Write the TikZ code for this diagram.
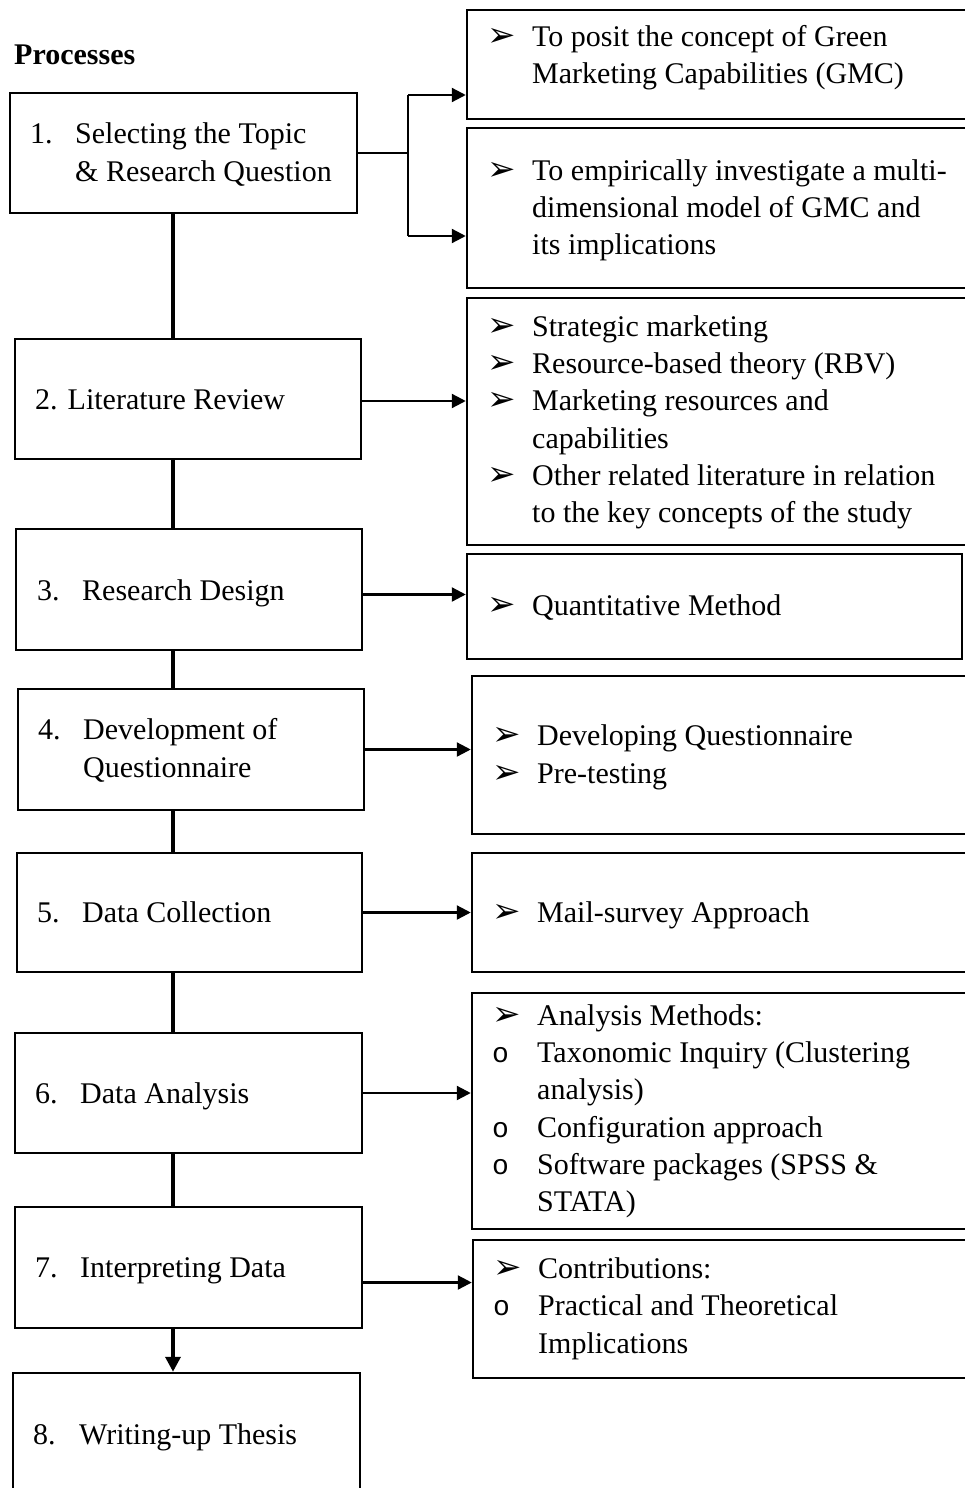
\documentclass[tikz,border=0pt]{standalone}
\usepackage{fontspec}
\setmainfont{Liberation Serif}
\newfontfamily\bulletfont{DejaVu Sans}
\newfontfamily\ringfont{Liberation Mono}
\usetikzlibrary{arrows.meta}

% rectangle given by its two corners (left, top, right, bottom)
\newcommand\panelbox[5]{%
  \node[panel, minimum width={(#4)-(#2)}, minimum height={(#5)-(#3)}]
    (#1) at ({((#2)+(#4))/2},{((#3)+(#5))/2}) {};}
% one line of text, placed by its baseline
\newcommand\tline[4]{\node[txt] (#1) at (#2,#3) {#4};}
% list markers
\newcommand\arrowmark[3]{\node[txt, font=\bulletfont\fontsize{34}{34}\selectfont] (#1) at (#2,#3) {➢};}
\newcommand\ringmark[3]{\node[txt, font=\ringfont\fontsize{28}{28}\selectfont] (#1) at (#2,#3) {o};}

\begin{document}
\begin{tikzpicture}[x=1pt,y=-1pt,
  panel/.style={draw, line width=2.5pt, inner sep=0pt},
  link/.style={line width=3.5pt},
  feed/.style={line width=2.3pt, -{Triangle[length=14pt,width=14pt]}},
  drop/.style={line width=3.5pt, -{Triangle[length=15pt,width=15pt]}},
  txt/.style={anchor=base west, inner sep=0pt, font=\fontsize{30}{38}\selectfont}]

\useasboundingbox (0,0) rectangle (964,1488);
\fill[white] (0,0) rectangle (964,1488);

% ---------- process steps ----------
\node[txt, font=\bfseries\fontsize{30}{38}\selectfont] (title) at (14,64) {Processes};

\panelbox{s1}{10}{93}{357}{213}
\panelbox{s2}{15}{339}{361}{459}
\panelbox{s3}{16}{529}{362}{650}
\panelbox{s4}{18}{689}{364}{810}
\panelbox{s5}{17}{853}{362}{972}
\panelbox{s6}{15}{1033}{362}{1153}
\panelbox{s7}{15}{1207}{362}{1328}
\panelbox{s8}{13}{1373}{360}{1510}

\tline{n1}{30}{143}{1.}
\tline{t1a}{75}{143}{Selecting the Topic}
\tline{t1b}{75}{181}{\& Research Question}
\tline{t2}{35}{409}{2. Literature Review}
\tline{n3}{37}{600}{3.}
\tline{t3}{82}{600}{Research Design}
\tline{n4}{38}{739}{4.}
\tline{t4a}{83}{739}{Development of}
\tline{t4b}{83}{777}{Questionnaire}
\tline{n5}{37}{922}{5.}
\tline{t5}{82}{922}{Data Collection}
\tline{n6}{35}{1103}{6.}
\tline{t6}{80}{1103}{Data Analysis}
\tline{n7}{35}{1277}{7.}
\tline{t7}{80}{1277}{Interpreting Data}
\tline{n8}{33}{1444}{8.}
\tline{t8}{79}{1444}{Writing-up Thesis}

% ---------- outcome panels ----------
\panelbox{pa}{467}{10}{980}{119}
\panelbox{pb}{467}{128}{980}{288}
\panelbox{pc}{467}{298}{980}{545}
\panelbox{pd}{467}{554}{962}{659}
\panelbox{pe}{472}{676}{980}{834}
\panelbox{pf}{472}{853}{980}{972}
\panelbox{pg}{472}{993}{980}{1229}
\panelbox{ph}{473}{1240}{980}{1378}

\arrowmark{ma}{487}{47}
\tline{la1}{532}{47}{To posit the concept of Green}
\tline{la2}{532}{84}{Marketing Capabilities (GMC)}

\arrowmark{mb}{487}{180}
\tline{lb1}{532}{180}{To empirically investigate a multi-}
\tline{lb2}{532}{217}{dimensional model of GMC and}
\tline{lb3}{532}{254}{its implications}

\arrowmark{mc1}{487}{336}
\tline{lc1}{532}{336}{Strategic marketing}
\arrowmark{mc2}{487}{373}
\tline{lc2}{532}{373}{Resource-based theory (RBV)}
\arrowmark{mc3}{487}{410}
\tline{lc3}{532}{410}{Marketing resources and}
\tline{lc4}{532}{448}{capabilities}
\arrowmark{mc5}{487}{485}
\tline{lc5}{532}{485}{Other related literature in relation}
\tline{lc6}{532}{522}{to the key concepts of the study}

\arrowmark{md}{487}{615}
\tline{ld}{532}{615}{Quantitative Method}

\arrowmark{me1}{492}{745}
\tline{le1}{537}{745}{Developing Questionnaire}
\arrowmark{me2}{492}{783}
\tline{le2}{537}{783}{Pre-testing}

\arrowmark{mf}{492}{922}
\tline{lf}{537}{922}{Mail-survey Approach}

\arrowmark{mg1}{492}{1025}
\tline{lg1}{537}{1025}{Analysis Methods:}
\ringmark{mg2}{492}{1062}
\tline{lg2}{537}{1062}{Taxonomic Inquiry (Clustering}
\tline{lg3}{537}{1099}{analysis)}
\ringmark{mg4}{492}{1137}
\tline{lg4}{537}{1137}{Configuration approach}
\ringmark{mg5}{492}{1174}
\tline{lg5}{537}{1174}{Software packages (SPSS \&}
\tline{lg6}{537}{1211}{STATA)}

\arrowmark{mh1}{493}{1278}
\tline{lh1}{538}{1278}{Contributions:}
\ringmark{mh2}{493}{1315}
\tline{lh2}{538}{1315}{Practical and Theoretical}
\tline{lh3}{538}{1353}{Implications}

% ---------- vertical flow ----------
\coordinate (col) at (173,0);
\draw[link] (s1.south -| col) -- (s2.north -| col);
\draw[link] (s2.south -| col) -- (s3.north -| col);
\draw[link] (s3.south -| col) -- (s4.north -| col);
\draw[link] (s4.south -| col) -- (s5.north -| col);
\draw[link] (s5.south -| col) -- (s6.north -| col);
\draw[link] (s6.south -| col) -- (s7.north -| col);
\draw[drop] (s7.south -| col) -- (s8.north -| col);

% ---------- links to the outcome panels ----------
\coordinate (jt) at (408,95);
\coordinate (jb) at (408,236);
\draw[line width=2.3pt] (s1.east) -- (s1.east -| jt);
\draw[line width=2.3pt] (jt) -- (jb);
\draw[feed] (jt) -- (jt -| pa.west);
\draw[feed] (jb) -- (jb -| pb.west);

\draw[feed] ([yshift=-2pt]s2.east) -- ([yshift=-2pt]s2.east -| pc.west);
\draw[feed] ([yshift=-5pt]s3.east) -- ([yshift=-5pt]s3.east -| pd.west);
\draw[feed] (s4.east) -- (s4.east -| pe.west);
\draw[feed] (s5.east) -- (s5.east -| pf.west);
\draw[feed] (s6.east) -- (s6.east -| pg.west);
\draw[feed] ([yshift=-15pt]s7.east) -- ([yshift=-15pt]s7.east -| ph.west);

\end{tikzpicture}
\end{document}
